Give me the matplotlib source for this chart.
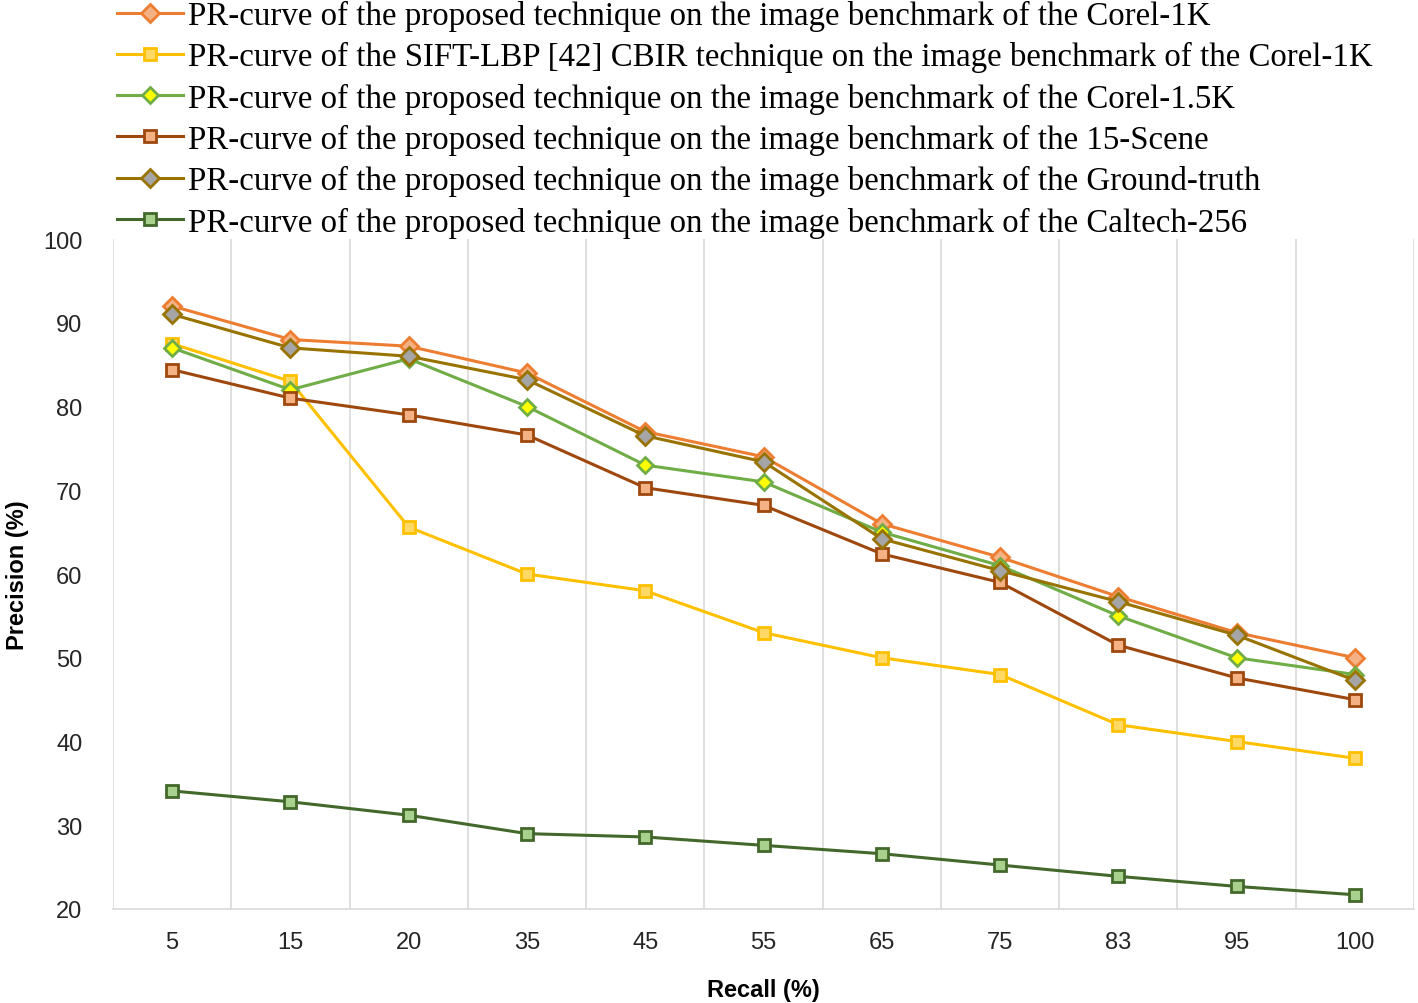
import numpy as np
from matplotlib import pyplot as plt

# x categories (recall %)
recall = ["5", "15", "20", "35", "45", "55", "65", "75", "83", "95", "100"]

corel_1k = [92, 88, 87.2, 84, 77, 74, 66, 62, 57.3, 53, 50]
sift_lbp = [87.5, 83, 65.6, 60, 58, 53, 50, 48, 42, 40, 38]
corel_15k = [87, 82, 85.7, 80, 73, 71, 65, 61, 55, 50, 48]
scene_15 = [84.4, 81, 79, 76.6, 70.3, 68.2, 62.4, 59, 51.5, 47.6, 45]
ground_truth = [91, 87, 86, 83.2, 76.5, 73.4, 64.2, 60.4, 56.7, 52.7, 47.3]
caltech_256 = [34.1, 32.8, 31.2, 29, 28.6, 27.6, 26.6, 25.25, 23.9, 22.7, 21.7]

labels = [
    "PR-curve of the proposed technique on the image benchmark of the Corel-1K",
    "PR-curve of the SIFT-LBP [42] CBIR technique on the image benchmark of the Corel-1K",
    "PR-curve of the proposed technique on the image benchmark of the Corel-1.5K",
    "PR-curve of the proposed technique on the image benchmark of the 15-Scene",
    "PR-curve of the proposed technique on the image benchmark of the Ground-truth",
    "PR-curve of the proposed technique on the image benchmark of the Caltech-256",
]


def main():
    fig = plt.figure(figsize=(14.18, 10.04), dpi=100)
    ax = fig.add_axes([113 / 1418, 1 - 910 / 1004, 1301 / 1418, 670 / 1004])

    x = np.arange(len(recall))
    series = [corel_1k, sift_lbp, corel_15k, scene_15, ground_truth, caltech_256]
    styles = [
        ("#ED7D31", "#F4B183", "D", 9),
        ("#FFC000", "#FFD966", "s", 8),
        ("#70AD47", "#FFFF00", "D", 8),
        ("#9E480E", "#F4B183", "s", 8),
        ("#997300", "#A5A5A5", "D", 9),
        ("#43682B", "#A9D18E", "s", 8),
    ]
    handles = []
    for data, (c, fc, m, ms), lab in zip(series, styles, labels):
        (h,) = ax.plot(
            x, data, color=c, linewidth=2.2, marker=m, markersize=ms,
            markerfacecolor=fc, markeredgecolor=c, markeredgewidth=2, label=lab,
        )
        handles.append(h)

    ax.set_xlim(-0.5, len(recall) - 0.5)
    ax.set_ylim(20, 100)
    ax.set_xticks(x)
    ax.set_xticklabels(recall)
    ax.set_yticks(np.arange(20, 101, 10))
    ax.tick_params(length=0, labelsize=17, colors="#262626")
    ax.tick_params(axis="x", pad=16)
    ax.tick_params(axis="y", pad=22)
    for lbl in ax.get_xticklabels() + ax.get_yticklabels():
        lbl.set_family("Liberation Sans")

    # vertical grid between categories
    for b in np.arange(-0.5, len(recall), 1.0):
        ax.axvline(b, color="#D9D9D9", linewidth=1.2, zorder=0)
    for s in ["top", "right", "left"]:
        ax.spines[s].set_visible(False)
    ax.spines["bottom"].set_color("#D9D9D9")
    ax.spines["bottom"].set_linewidth(1.2)

    ax.set_xlabel("Recall (%)", fontsize=17, fontweight="bold",
                  family="Liberation Sans", labelpad=18)
    ax.set_ylabel("Precision (%)", fontsize=17, fontweight="bold",
                  family="Liberation Sans", labelpad=10)

    fig.legend(
        handles=handles, loc="upper left", bbox_to_anchor=(104 / 1418, 1.012),
        frameon=False, prop={"family": "Liberation Serif", "size": 23.7},
        handlelength=2.0, handletextpad=0.15, labelspacing=0.31,
        borderaxespad=0,
    )

    fig.savefig("out.png", dpi=100)


if __name__ == "__main__":
    main()
